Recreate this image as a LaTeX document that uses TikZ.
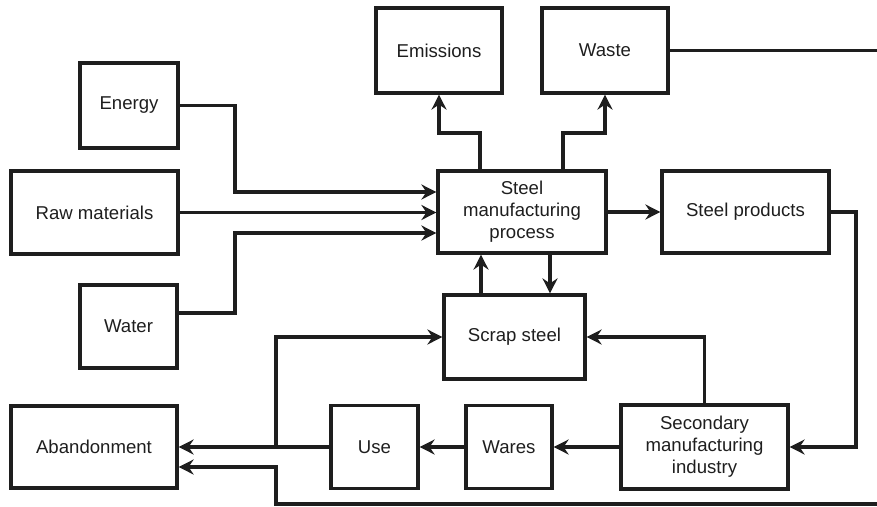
\documentclass[tikz,border=0pt]{standalone}
\usepackage{fontspec}
\setmainfont{Liberation Sans}
\usetikzlibrary{arrows.meta}
\definecolor{ink}{HTML}{1E1E1E}
\tikzset{
  box/.style={draw=ink, line width=3.2pt, rectangle, align=center, inner sep=0pt,
    text=ink, font=\fontsize{18.6}{22}\selectfont},
  flow/.style={draw=ink, line width=3.2pt, -{Stealth[length=15pt,width=15pt,inset=5pt]}},
  plain/.style={draw=ink, line width=3.2pt}
}
\begin{document}
\begin{tikzpicture}[x=1pt,y=1pt]
\useasboundingbox (0,0) rectangle (877,-506);
% boxes
\node[box, minimum width=126pt, minimum height=85pt] (emis) at (439,-50.5) {Emissions};
\node[box, minimum width=126pt, minimum height=85pt] (waste) at (605,-50.5) {Waste};
\node[box, minimum width=98pt, minimum height=85pt] (energy) at (129,-105.5) {Energy};
\node[box, minimum width=167pt, minimum height=83pt] (raw) at (94.5,-212.5) {Raw materials};
\node[box, minimum width=97pt, minimum height=83pt] (water) at (128.5,-326.5) {Water};
\node[box, minimum width=168pt, minimum height=82pt] (proc) at (522,-212) {Steel\\manufacturing\\process};
\node[box, minimum width=167pt, minimum height=82pt] (prod) at (745.5,-212) {Steel products};
\node[box, minimum width=141pt, minimum height=84pt] (scrap) at (514.5,-337) {Scrap steel};
\node[box, minimum width=166pt, minimum height=82pt] (aband) at (94,-447) {Abandonment};
\node[box, minimum width=87pt, minimum height=83pt] (use) at (374.5,-447) {Use};
\node[box, minimum width=86pt, minimum height=83pt] (wares) at (509,-447) {Wares};
\node[box, minimum width=167pt, minimum height=84pt] (sec) at (704.5,-447) {Secondary\\manufacturing\\industry};
% helper coordinates
\coordinate (ej) at (235,-192);
\coordinate (wj) at (235,-233);
\coordinate (eo) at (480,-133);
\coordinate (wo) at (563,-133);
\coordinate (pr) at (856,-212);
\coordinate (lj) at (276,-337);
\coordinate (lb) at (276,-447);
\coordinate (bb) at (276,-504);
\coordinate (br) at (877,-504);
\coordinate (wr) at (877,-50.5);
% inputs
\draw[flow] (energy.east) -| (ej) -- (ej -| proc.west);
\draw[flow] (raw.east) -- (raw.east -| proc.west);
\draw[flow] ([yshift=13.5pt]water.east) -| (wj) -- (wj -| proc.west);
% outputs up
\draw[flow] (eo |- proc.north) -- (eo) -| (emis.south);
\draw[flow] (wo |- proc.north) -- (wo) -| (waste.south);
\draw[plain] (waste.east) -- (wr);
% product chain
\draw[flow] (proc.east) -- (prod.west);
\draw[flow] (prod.east) -| (pr) |- (sec.east);
\draw[flow] (sec.west) -- (wares.east);
\draw[flow] (wares.west) -- (use.east);
\draw[flow] (use.west) -- (aband.east);
% scrap loops
\draw[flow] (sec.north) |- (scrap.east);
\draw[flow] (lb) -- (lj) -- (lj -| scrap.west);
\draw[flow] ([xshift=-33.5pt]scrap.north) -- ([xshift=-33.5pt]scrap.north |- proc.south);
\draw[flow] ([xshift=28pt]proc.south) -- ([xshift=28pt]proc.south |- scrap.north);
\draw[flow] (br) -- (bb) |- ([yshift=-20pt]aband.east);
\end{tikzpicture}
\end{document}
